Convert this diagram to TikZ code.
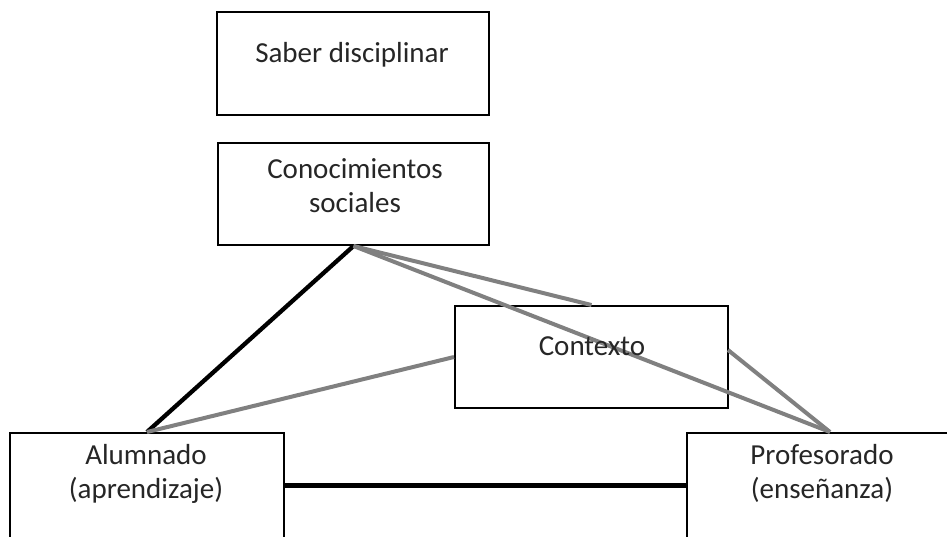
\documentclass[tikz,border=0pt]{standalone}
\usepackage{fontspec}
\setmainfont{Carlito}
\begin{document}
\begin{tikzpicture}[x=1pt,y=-1pt,
  box/.style={draw=black, line width=2pt, fill=white, rectangle, inner sep=0pt},
  lbl/.style={font=\fontsize{29}{34}\selectfont, align=center, anchor=base, text=black!85},
  blk/.style={line width=4.3pt, black},
  gry/.style={line width=4pt, color=black!50}]
\useasboundingbox (0,0) rectangle (947,536);
\clip (0,0) rectangle (947,536);
% boxes
\node[box, minimum width=272pt, minimum height=103pt] (sab) at (353,63.5) {};
\node[box, minimum width=271pt, minimum height=102pt] (con) at (353.5,194) {};
\node[box, minimum width=274pt, minimum height=105pt] (alum) at (147,485.5) {};
\node[box, minimum width=286pt, minimum height=105pt] (prof) at (830,485.5) {};
% connectors under Contexto
\draw[blk] (con.south) -- (alum.north);
\draw[blk] (alum.east) -- (prof.west);
\node[box, minimum width=273pt, minimum height=102pt] (ctx) at (591.5,357) {};
\coordinate (ctxr) at (728,350);
\draw[gry] (alum.north) -- (ctx.west);
\draw[gry] (con.south) -- (ctx.north);
\draw[gry] (con.south) -- (prof.north);
\draw[gry] (ctxr) -- (prof.north);
% texts (base anchor = last line baseline)
\node[lbl] (sabt) at (352,62) {Saber disciplinar};
\node[lbl] (cont) at (355,212) {Conocimientos\\sociales};
\node[lbl] (ctxt) at (592,355) {Contexto};
\node[lbl] (alumt) at (146,498) {Alumnado\\(aprendizaje)};
\node[lbl] (proft) at (822,498) {Profesorado\\(enseñanza)};
\end{tikzpicture}
\end{document}
